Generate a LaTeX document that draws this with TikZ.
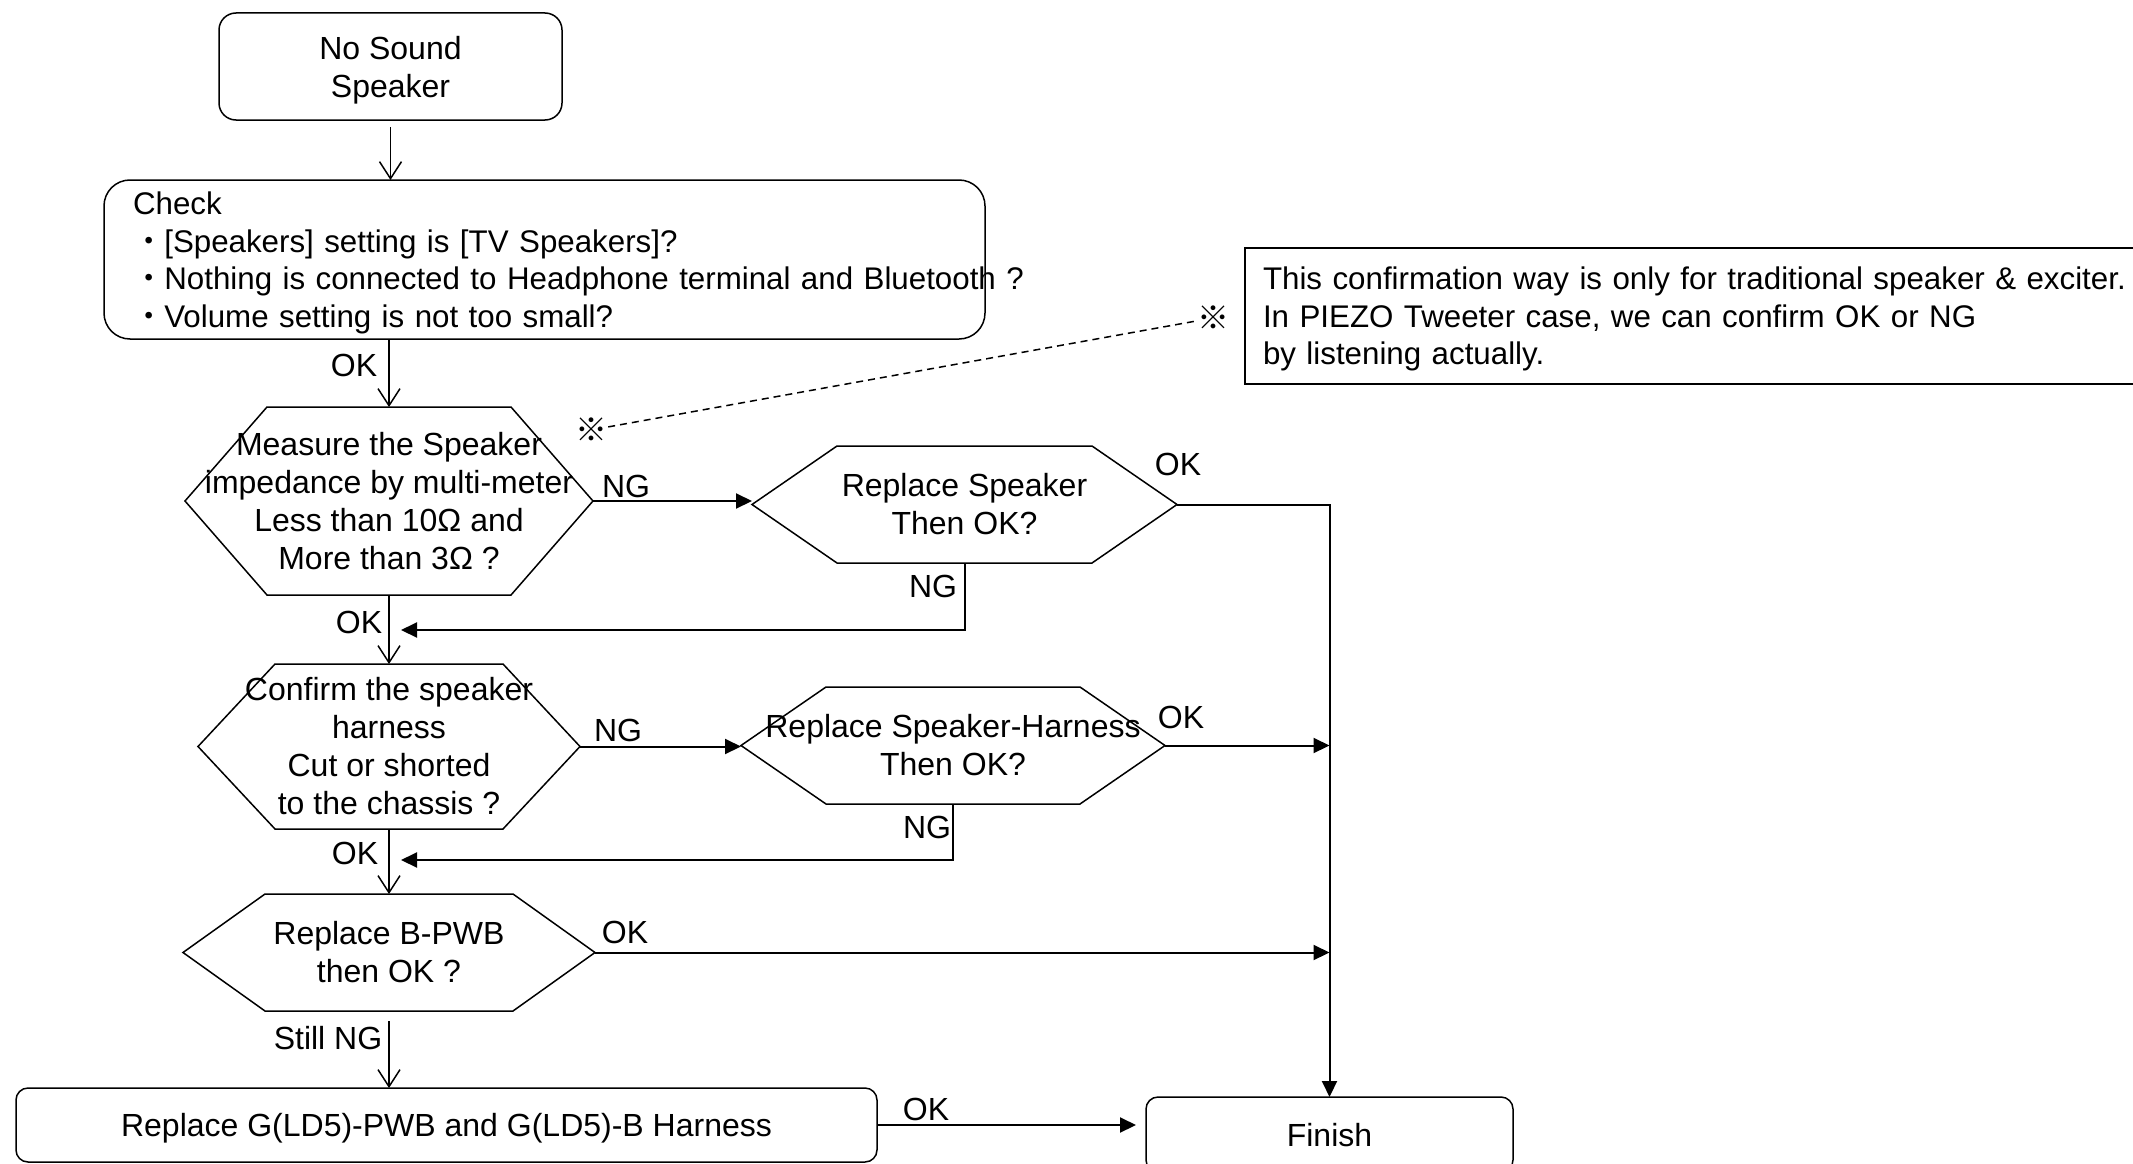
\documentclass[tikz,border=0pt]{standalone}
\usepackage{fontspec}
\setmainfont{Liberation Sans}
\newfontfamily\cjk{Noto Sans CJK JP}
\usetikzlibrary{arrows.meta,calc}
\tikzset{
  txt/.style={font=\fontsize{32}{38}\selectfont, inner sep=0pt, outer sep=0pt},
  smalltxt/.style={font=\fontsize{31.3}{37.5}\selectfont},
  rbox/.style={txt, draw, line width=1.5pt, align=center},
  hexnode/.style={txt, align=center},
  hexline/.style={line width=1.5pt, line join=miter},
  vflow/.style={line width=1.5pt, -{Straight Barb[length=17pt,width=22pt]}},
  sflow/.style={line width=2pt, -{Triangle[length=16pt,width=15pt]}},
  lbl/.style={txt},
  notebox/.style={txt, draw, line width=1.5pt, align=left},
  refmark/.style={font=\cjk\fontsize{32}{38}\selectfont, inner sep=1pt},
  dashline/.style={line width=1.5pt, dash pattern=on 7pt off 5pt},
}
\newcommand\hexoutline[2]{%
  \draw[hexline] (#1.west) -- ([xshift=#2]#1.north west) -- ([xshift=-#2]#1.north east)
    -- (#1.east) -- ([xshift=-#2]#1.south east) -- ([xshift=#2]#1.south west) -- cycle;}
\begin{document}
\begin{tikzpicture}[x=1pt,y=-1pt]
\useasboundingbox (0,0) rectangle (2133,1164);
\fill[white] (0,0) rectangle (2133,1164);

% boxes
\node[rbox, rounded corners=17pt, minimum width=343pt, minimum height=107pt, text depth=0pt] (start) at (390.5,66.5) {No Sound\\Speaker};
\node[rbox, smalltxt, rounded corners=26pt, minimum width=881pt, minimum height=159pt, text width=823pt, align=left, inner xsep=29pt, text depth=112.5pt] (check) at (544.5,259.5)
  {Check\\\mbox{{\cjk ・}[Speakers] setting is [TV Speakers]?}\\\mbox{{\cjk ・}Nothing is connected to Headphone terminal and Bluetooth ?}\\\mbox{{\cjk ・}Volume setting is not too small?}};

\node[hexnode, minimum width=408pt, minimum height=188pt] (h1) at (389,501) {Measure the Speaker\\impedance by multi-meter\\Less than 10Ω and\\More than 3Ω ?};
\hexoutline{h1}{82pt}
\node[hexnode, minimum width=425pt, minimum height=117pt] (h2) at (964.5,504.5) {Replace Speaker\\Then OK?};
\hexoutline{h2}{85pt}
\node[hexnode, minimum width=382pt, minimum height=165pt] (h3) at (389,746.5) {Confirm the speaker\\harness\\Cut or shorted\\to the chassis ?};
\hexoutline{h3}{77pt}
\node[hexnode, minimum width=424pt, minimum height=117pt] (h4) at (953,745.5) {Replace Speaker-Harness\\Then OK?};
\hexoutline{h4}{85pt}
\node[hexnode, minimum width=412pt, minimum height=117pt] (h5) at (389,952.5) {Replace B-PWB\\then OK ?};
\hexoutline{h5}{82pt}

\node[rbox, rounded corners=12pt, minimum width=861pt, minimum height=74pt, text depth=0pt] (g) at (446.5,1125) {Replace G(LD5)-PWB and G(LD5)-B Harness};
\node[rbox, rounded corners=12pt, minimum width=367pt, minimum height=75pt, text depth=0pt] (fin) at (1329.5,1134.5) {Finish};

\node[notebox, smalltxt, anchor=north west, minimum height=136pt, text width=864pt, inner xsep=18pt, text depth=75pt] (note) at (1245,248)
  {\mbox{This confirmation way is only for traditional speaker \& exciter.}\\\mbox{In PIEZO Tweeter case, we can confirm OK or NG}\\\mbox{by listening actually.}};

\node[refmark] (s1) at (591,430) {※};
\node[refmark] (s2) at (1213,318) {※};
\draw[dashline] (s1) -- (s2);

% vertical flow
\draw[vflow, shorten <=7pt] (start.south) -- (start.south |- check.north);
\draw[vflow] (h1.north |- check.south) -- (h1.north);
\draw[vflow] (h1.south) -- (h3.north);
\draw[vflow] (h3.south) -- (h5.north);
\draw[vflow, shorten <=10pt] (h5.south) -- (h5.south |- g.north);

% side flows
\coordinate (fb1) at (401,630);
\coordinate (fb2) at (401,860);
\draw[sflow] (h1.east) -- (h1.east -| h2.west);
\draw[sflow] (h2.south) |- (fb1);
\draw[sflow] (h3.east) -- (h3.east -| h4.west);
\draw[sflow] (h4.south) |- (fb2);
\draw[sflow] (h2.east) -| (fin.north);
\draw[sflow] (h4.east) -- (h4.east -| fin.north);
\draw[sflow] (h5.east) -- (h5.east -| fin.north);
\draw[sflow, shorten >=10pt] (g.east) -- (g.east -| fin.west);

% labels
\node[lbl] (l1) at (354,365) {OK};
\node[lbl] (l2) at (626,486) {NG};
\node[lbl] (l3) at (1178,464) {OK};
\node[lbl] (l4) at (933,586) {NG};
\node[lbl] (l5) at (359,622) {OK};
\node[lbl] (l6) at (618,730) {NG};
\node[lbl] (l7) at (1181,717) {OK};
\node[lbl] (l8) at (927,827) {NG};
\node[lbl] (l9) at (355,853) {OK};
\node[lbl] (l10) at (625,932) {OK};
\node[lbl] (l11) at (328,1038) {Still NG};
\node[lbl] (l12) at (926,1109) {OK};
\end{tikzpicture}
\end{document}
